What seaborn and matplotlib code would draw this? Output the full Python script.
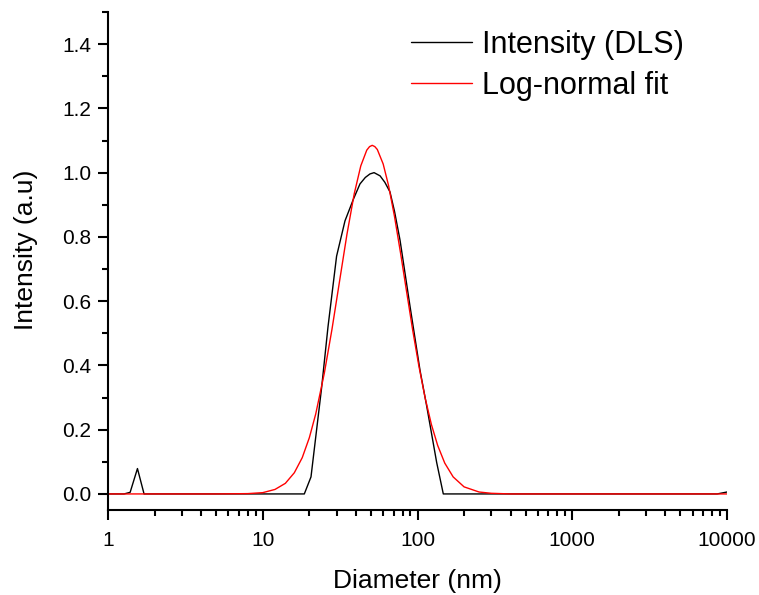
import pandas as pd
import matplotlib
matplotlib.use("Agg")
import matplotlib.pyplot as plt
import matplotlib.ticker as mticker
import seaborn as sns

# ─── Datos ───────────────────────────────────────────────────────────────────
# Intensidad DLS (curva negra)
dls_diametro = [1.0, 1.27, 1.39, 1.55, 1.71, 18.56, 20.5, 24.0, 26.4, 30.0,
                34.0, 38.5, 42.5, 46.0, 49.3, 52.4, 57.3, 61.5, 66.4, 71.0,
                77.1, 89.4, 103.8, 114.6, 133.0, 146.8, 8635.0, 10000.0]
dls_intensidad = [0.0, 0.0, 0.005, 0.079, 0.0, 0.0, 0.053, 0.33, 0.52, 0.74,
                  0.85, 0.917, 0.965, 0.985, 0.996, 1.0, 0.99, 0.97, 0.94, 0.88,
                  0.79, 0.585, 0.385, 0.274, 0.098, 0.0, 0.0, 0.006]

# Ajuste log-normal (curva roja)
fit_diametro = [1, 5, 8, 10, 12, 14, 16, 18, 20, 22, 25, 28, 31, 35, 39, 43, 47,
                49, 51, 53, 55, 60, 65, 71, 78, 85, 93, 102, 112, 123, 135, 150,
                170, 200, 250, 300, 400, 10000]
fit_intensidad = [0.0, 0.0, 0.001, 0.004, 0.014, 0.033, 0.066, 0.113, 0.175,
                  0.249, 0.376, 0.512, 0.647, 0.808, 0.934, 1.021, 1.070, 1.081,
                  1.085, 1.081, 1.072, 1.027, 0.960, 0.864, 0.745, 0.630, 0.511,
                  0.399, 0.299, 0.216, 0.151, 0.096, 0.053, 0.022, 0.006, 0.002,
                  0.0, 0.0]

x_ticks = [1, 10, 100, 1000, 10000]
y_ticks = [0.0, 0.2, 0.4, 0.6, 0.8, 1.0, 1.2, 1.4]

# ─── Estilo ──────────────────────────────────────────────────────────────────
sns.set_theme(style="ticks")
plt.rcParams.update({
    "font.family": ["Liberation Sans", "DejaVu Sans"],
    "text.color": "black",
    "axes.labelcolor": "black",
    "axes.linewidth": 1.5,
    "xtick.major.width": 1.5,
    "ytick.major.width": 1.5,
    "xtick.minor.width": 1.5,
    "ytick.minor.width": 1.5,
    "xtick.major.size": 7,
    "ytick.major.size": 7,
    "xtick.minor.size": 4.5,
    "ytick.minor.size": 4.5,
    "xtick.direction": "out",
    "ytick.direction": "out",
    "axes.edgecolor": "black",
    "xtick.color": "black",
    "ytick.color": "black",
})

df_dls = pd.DataFrame({"d": dls_diametro, "i": dls_intensidad})
df_fit = pd.DataFrame({"d": fit_diametro, "i": fit_intensidad})

fig = plt.figure(figsize=(7.59, 5.95), dpi=100)
ax = fig.add_axes([108 / 759, 85 / 595, 619 / 759, 498 / 595])

sns.lineplot(data=df_dls, x="d", y="i", ax=ax, color="black", lw=1.0,
             label="Intensity (DLS)", sort=False, estimator=None)
sns.lineplot(data=df_fit, x="d", y="i", ax=ax, color="#ff0000", lw=1.0,
             label="Log-normal fit", sort=False, estimator=None)

ax.set_xscale("log")
ax.set_xlim(1, 10000)
ax.set_ylim(-0.05, 1.5)
ax.set_xticks(x_ticks)
ax.xaxis.set_minor_locator(mticker.LogLocator(base=10, subs=range(2, 10)))
ax.xaxis.set_major_formatter(mticker.FuncFormatter(lambda v, _: f"{v:g}"))
ax.xaxis.set_minor_formatter(mticker.NullFormatter())
ax.set_yticks(y_ticks)
ax.yaxis.set_minor_locator(mticker.MultipleLocator(0.1))
ax.yaxis.set_major_formatter(mticker.FormatStrFormatter("%.1f"))
ax.tick_params(axis="both", which="major", labelsize=15, pad=5)
ax.tick_params(axis="x", which="major", pad=8)

ax.set_xlabel("Diameter (nm)", fontsize=19, labelpad=14)
ax.set_ylabel("Intensity (a.u)", fontsize=19)
ax.yaxis.set_label_coords(-0.113, 0.522)
sns.despine(ax=ax)

ax.legend(loc="upper left", bbox_to_anchor=(411 / 759, 1 - 30 / 595),
          bbox_transform=fig.transFigure, frameon=False, fontsize=22,
          borderpad=0, borderaxespad=0, handlelength=2.0,
          handletextpad=0.33, labelspacing=0.35)

fig.savefig("out.png", dpi=100)
plt.close(fig)
